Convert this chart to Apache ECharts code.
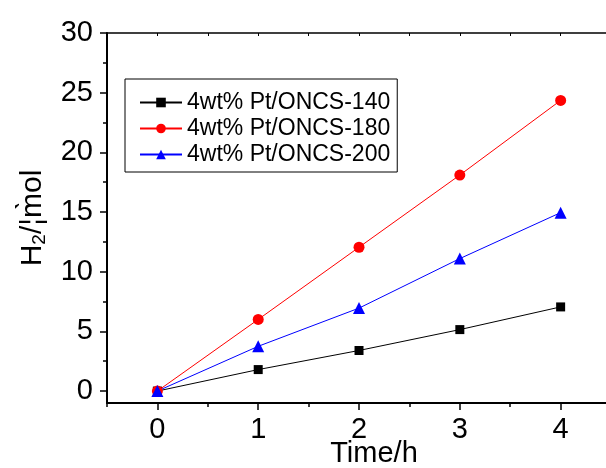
<!DOCTYPE html>
<html>
<head>
<meta charset="utf-8">
<script src="https://cdn.jsdelivr.net/npm/echarts@6/dist/echarts.min.js"></script>
<style>
  html, body { margin: 0; padding: 0; background: #fff; overflow: hidden; }
  #chart { width: 606px; height: 468px; }
</style>
</head>
<body>
<div id="chart"></div>
<script>
// Hydrogen evolution over time for three Pt/ONCS catalysts
const times = [0, 1, 2, 3, 4];
const pt140 = [0, 1.8, 3.4, 5.15, 7.05];
const pt180 = [0, 6.0, 12.05, 18.1, 24.35];
const pt200 = [0, 3.75, 6.95, 11.1, 14.95];
const seriesNames = ['4wt% Pt/ONCS-140', '4wt% Pt/ONCS-180', '4wt% Pt/ONCS-200'];

const xMajor = [0, 1, 2, 3, 4];
const xMinor = [-0.5, 0.5, 1.5, 2.5, 3.5];
const yMajor = [0, 5, 10, 15, 20, 25, 30];
const yMinor = [2.5, 7.5, 12.5, 17.5, 22.5, 27.5];

const FONT = '"Liberation Sans", Arial, sans-serif';
const X_MIN = -0.5, X_MAX = 4.45;

function pairs(ys) { return times.map((t, i) => [t, ys[i]]); }

const chart = echarts.init(document.getElementById('chart'), null, { renderer: 'canvas' });

const axisBase = { type: 'value', splitLine: { show: false } };

chart.setOption({
  animation: false,
  backgroundColor: '#fff',
  grid: { left: 107, top: 33, right: 0, bottom: 65, containLabel: false, outerBoundsMode: 'none' },
  legend: {
    left: 125, top: 79,
    orient: 'vertical',
    borderColor: '#000', borderWidth: 1,
    padding: [12, 7, 6, 14],
    itemWidth: 42, itemHeight: 12, itemGap: 3,
    textStyle: { fontFamily: FONT, fontSize: 23, color: '#000', lineHeight: 22 },
    data: seriesNames
  },
  xAxis: [
    Object.assign({}, axisBase, {
      min: X_MIN, max: X_MAX, position: 'bottom',
      axisLine: { show: true, onZero: false, lineStyle: { color: '#000', width: 2 } },
      axisTick: { show: true, inside: false, length: 7, customValues: xMajor, lineStyle: { color: '#000', width: 1.5 } },
      axisLabel: { show: true, customValues: xMajor, margin: 12, fontFamily: FONT, fontSize: 29, color: '#000' },
      name: 'Time/h', nameLocation: 'middle', nameGap: 36, nameMoveOverlap: false,
      nameTextStyle: { fontFamily: FONT, fontSize: 29, color: '#000', padding: [0, 0, 0, 35] }
    }),
    Object.assign({}, axisBase, {
      min: X_MIN, max: X_MAX, position: 'bottom',
      axisLine: { show: false, onZero: false },
      axisTick: { show: true, inside: false, length: 4, customValues: xMinor, lineStyle: { color: '#000', width: 1.5 } },
      axisLabel: { show: false }
    }),
    Object.assign({}, axisBase, {
      min: X_MIN, max: X_MAX, position: 'top',
      axisLine: { show: true, onZero: false, lineStyle: { color: '#000', width: 1.5 } },
      axisTick: { show: true, inside: true, length: 3, customValues: xMinor.concat(xMajor), lineStyle: { color: '#000', width: 1 } },
      axisLabel: { show: false }
    })
  ],
  yAxis: [
    Object.assign({}, axisBase, {
      min: -1, max: 30, position: 'left',
      axisLine: { show: true, onZero: false, lineStyle: { color: '#000', width: 2 } },
      axisTick: { show: true, inside: false, length: 7, customValues: yMajor, lineStyle: { color: '#000', width: 1.5 } },
      axisLabel: { show: true, customValues: yMajor, margin: 14, fontFamily: FONT, fontSize: 29, color: '#000' },
      name: '{a|H}{s|2}{a|/¦m̀ol}', nameLocation: 'middle', nameGap: 58, nameRotate: 90, nameMoveOverlap: false,
      nameTextStyle: {
        color: '#000',
        rich: {
          a: { fontFamily: FONT, fontSize: 30, color: '#000' },
          s: { fontFamily: FONT, fontSize: 19, color: '#000', verticalAlign: 'bottom', padding: [14, 0, 0, 0] }
        }
      }
    }),
    Object.assign({}, axisBase, {
      min: -1, max: 30, position: 'left',
      axisLine: { show: false, onZero: false },
      axisTick: { show: true, inside: false, length: 4, customValues: yMinor, lineStyle: { color: '#000', width: 1.5 } },
      axisLabel: { show: false }
    })
  ],
  series: [
    {
      name: seriesNames[0], type: 'line', data: pairs(pt140),
      symbol: 'rect', symbolSize: 9,
      lineStyle: { color: '#000', width: 1 }, itemStyle: { color: '#000' }
    },
    {
      name: seriesNames[1], type: 'line', data: pairs(pt180),
      symbol: 'circle', symbolSize: 11,
      lineStyle: { color: '#ff0000', width: 1 }, itemStyle: { color: '#ff0000' }
    },
    {
      name: seriesNames[2], type: 'line', data: pairs(pt200),
      symbol: 'triangle', symbolSize: 12,
      lineStyle: { color: '#0000ff', width: 1 }, itemStyle: { color: '#0000ff' }
    }
  ]
});
</script>
</body>
</html>
